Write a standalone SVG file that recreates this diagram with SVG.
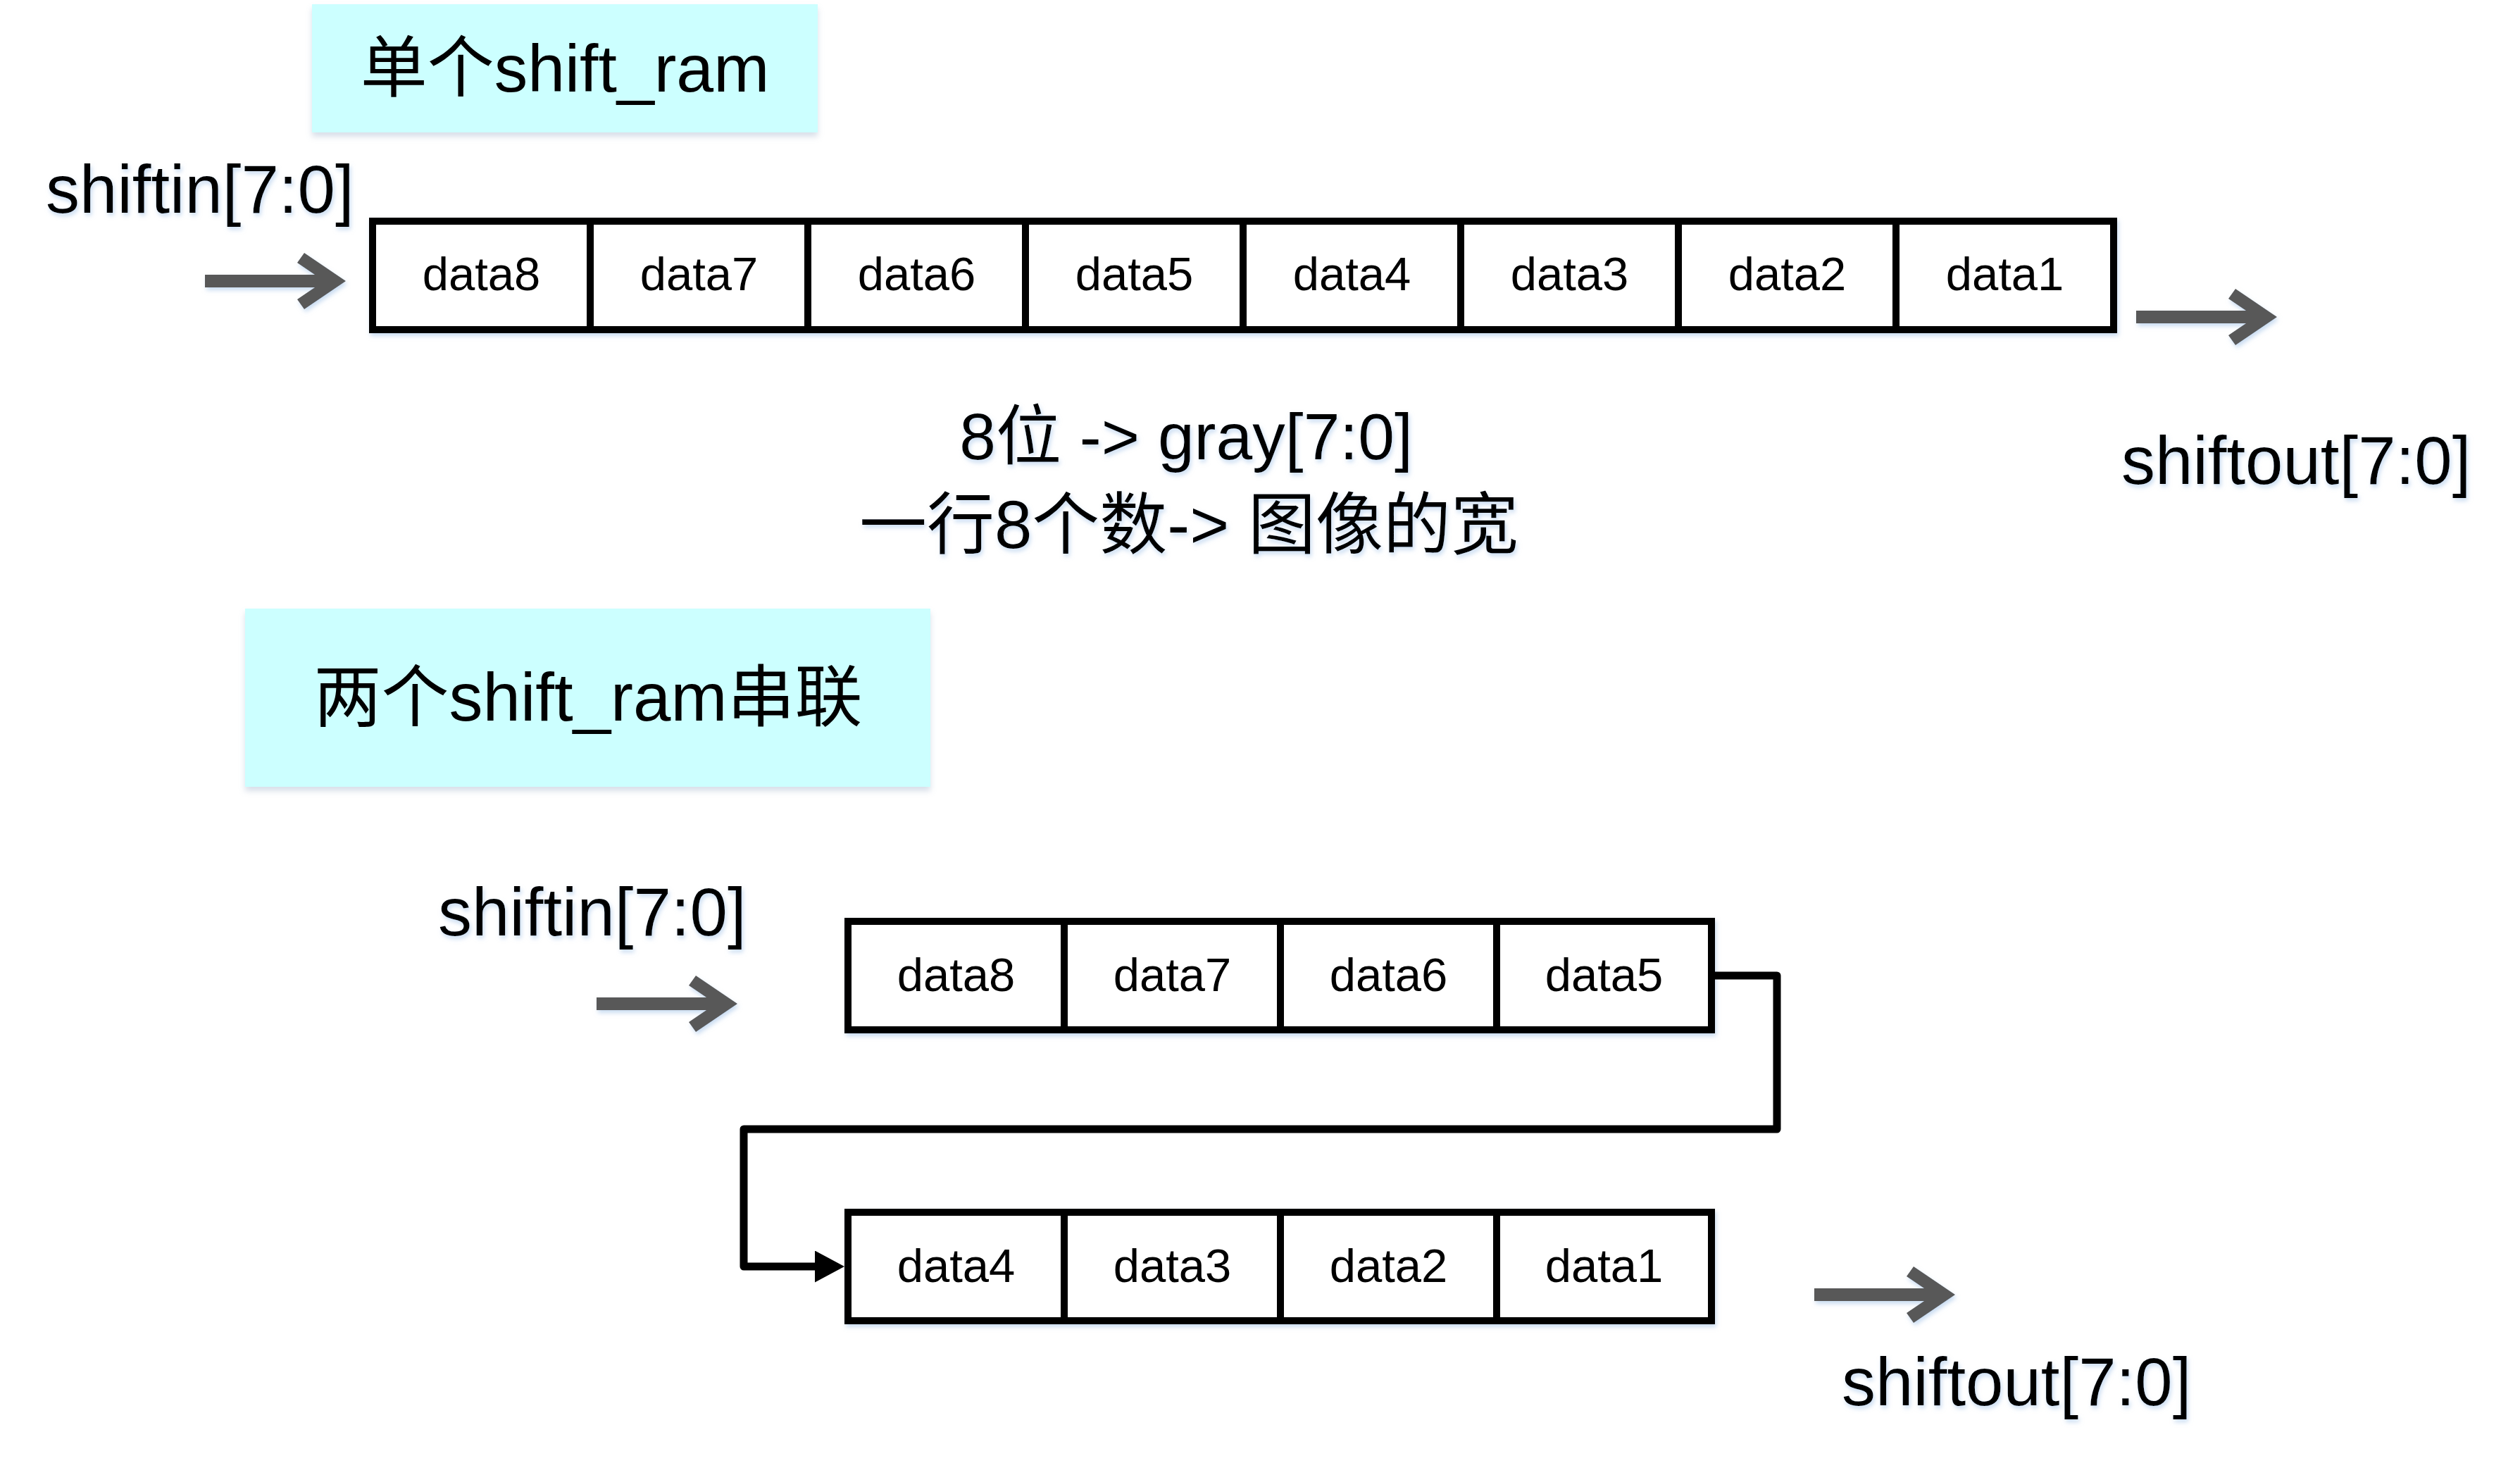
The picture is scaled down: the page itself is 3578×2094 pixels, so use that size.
<svg xmlns="http://www.w3.org/2000/svg" xmlns:xlink="http://www.w3.org/1999/xlink" width="3578" height="2094" viewBox="0 0 3578 2094">
<defs>
<style>
.cell{fill:#ffffff;stroke:#000000;stroke-width:10}
.ct{font-family:"Liberation Sans","Noto Sans CJK SC",sans-serif;font-size:67px;fill:#000;text-anchor:middle}
.lbl{font-family:"Liberation Sans","Noto Sans CJK SC",sans-serif;font-size:96px;fill:#000}
.title{fill:#CCFFFF}
.tt{font-family:"Liberation Sans","Noto Sans CJK SC",sans-serif;fill:#000;text-anchor:middle}
.garrow{fill:#595959}
.link{fill:none;stroke:#000;stroke-width:11;stroke-linejoin:round;stroke-linecap:round}
</style>
<filter id="sh" x="-10%" y="-20%" width="120%" height="150%">
<feDropShadow dx="2" dy="4" stdDeviation="3" flood-color="#9cbfe6" flood-opacity="0.55"/>
</filter>
<filter id="bsh" x="-5%" y="-10%" width="110%" height="130%">
<feDropShadow dx="0" dy="6" stdDeviation="4" flood-color="#8fa3c0" flood-opacity="0.35"/>
</filter>
<polygon id="garrow" class="garrow" points="-200,-9 -44,-9 -69,-26 -59,-40 0,0 -59,40 -69,26 -44,9 -200,9"/>
<marker id="tri" viewBox="0 0 42 45" refX="8" refY="22.5" markerWidth="42" markerHeight="45" markerUnits="userSpaceOnUse" orient="auto">
<path d="M0,0 L42,22.5 L0,45 z" fill="#000"/>
</marker>
</defs>
<rect width="3578" height="2094" fill="#ffffff"/>

<g id="title1" filter="url(#bsh)">
<rect class="title" x="443" y="6" width="718" height="182"/>
<text class="tt" x="802" y="130" font-size="95">单个shift_ram</text>
</g>

<g id="title2" filter="url(#bsh)">
<rect class="title" x="348" y="864" width="973" height="253"/>
<text class="tt" x="835" y="1023" font-size="96">两个shift_ram串联</text>
</g>

<g id="label-shiftin-top" filter="url(#sh)"><text class="lbl" x="65" y="302">shiftin[7:0]</text></g>
<g id="label-shiftout-top" filter="url(#sh)"><text class="lbl" x="3012" y="687">shiftout[7:0]</text></g>
<g id="label-shiftin-bottom" filter="url(#sh)"><text class="lbl" x="622" y="1328">shiftin[7:0]</text></g>
<g id="label-shiftout-bottom" filter="url(#sh)"><text class="lbl" x="2615" y="1995">shiftout[7:0]</text></g>

<g id="note" filter="url(#sh)">
<text class="tt" x="1684" y="652" font-size="93">8位 -&gt; gray[7:0]</text>
<text class="tt" x="1688" y="778" font-size="96">一行8个数-&gt; 图像的宽</text>
</g>

<g id="row-top" filter="url(#sh)">
<g id="t-data8"><rect class="cell" x="529" y="314" width="309" height="154"/><text class="ct" x="683.5" y="412">data8</text></g>
<g id="t-data7"><rect class="cell" x="838" y="314" width="309" height="154"/><text class="ct" x="992.5" y="412">data7</text></g>
<g id="t-data6"><rect class="cell" x="1147" y="314" width="309" height="154"/><text class="ct" x="1301.5" y="412">data6</text></g>
<g id="t-data5"><rect class="cell" x="1456" y="314" width="309" height="154"/><text class="ct" x="1610.5" y="412">data5</text></g>
<g id="t-data4"><rect class="cell" x="1765" y="314" width="309" height="154"/><text class="ct" x="1919.5" y="412">data4</text></g>
<g id="t-data3"><rect class="cell" x="2074" y="314" width="309" height="154"/><text class="ct" x="2228.5" y="412">data3</text></g>
<g id="t-data2"><rect class="cell" x="2383" y="314" width="309" height="154"/><text class="ct" x="2537.5" y="412">data2</text></g>
<g id="t-data1"><rect class="cell" x="2692" y="314" width="309" height="154"/><text class="ct" x="2846.5" y="412">data1</text></g>
</g>

<g id="row-b1" filter="url(#sh)">
<g id="b-data8"><rect class="cell" x="1204" y="1308" width="307" height="154"/><text class="ct" x="1357.5" y="1407">data8</text></g>
<g id="b-data7"><rect class="cell" x="1511" y="1308" width="307" height="154"/><text class="ct" x="1664.5" y="1407">data7</text></g>
<g id="b-data6"><rect class="cell" x="1818" y="1308" width="307" height="154"/><text class="ct" x="1971.5" y="1407">data6</text></g>
<g id="b-data5"><rect class="cell" x="2125" y="1308" width="305" height="154"/><text class="ct" x="2277.5" y="1407">data5</text></g>
</g>

<g id="row-b2" filter="url(#sh)">
<g id="b-data4"><rect class="cell" x="1204" y="1721" width="307" height="154"/><text class="ct" x="1357.5" y="1820">data4</text></g>
<g id="b-data3"><rect class="cell" x="1511" y="1721" width="307" height="154"/><text class="ct" x="1664.5" y="1820">data3</text></g>
<g id="b-data2"><rect class="cell" x="1818" y="1721" width="307" height="154"/><text class="ct" x="1971.5" y="1820">data2</text></g>
<g id="b-data1"><rect class="cell" x="2125" y="1721" width="305" height="154"/><text class="ct" x="2277.5" y="1820">data1</text></g>
</g>

<g id="connectors">
<g filter="url(#sh)">
<use xlink:href="#garrow" x="491" y="399"/>
<use xlink:href="#garrow" x="3233" y="450"/>
<use xlink:href="#garrow" x="1047" y="1425"/>
<use xlink:href="#garrow" x="2776" y="1838"/>
</g>
<path class="link" d="M2432,1385 H2523 V1603 H1056 V1798 H1165" marker-end="url(#tri)"/>
</g>
</svg>
